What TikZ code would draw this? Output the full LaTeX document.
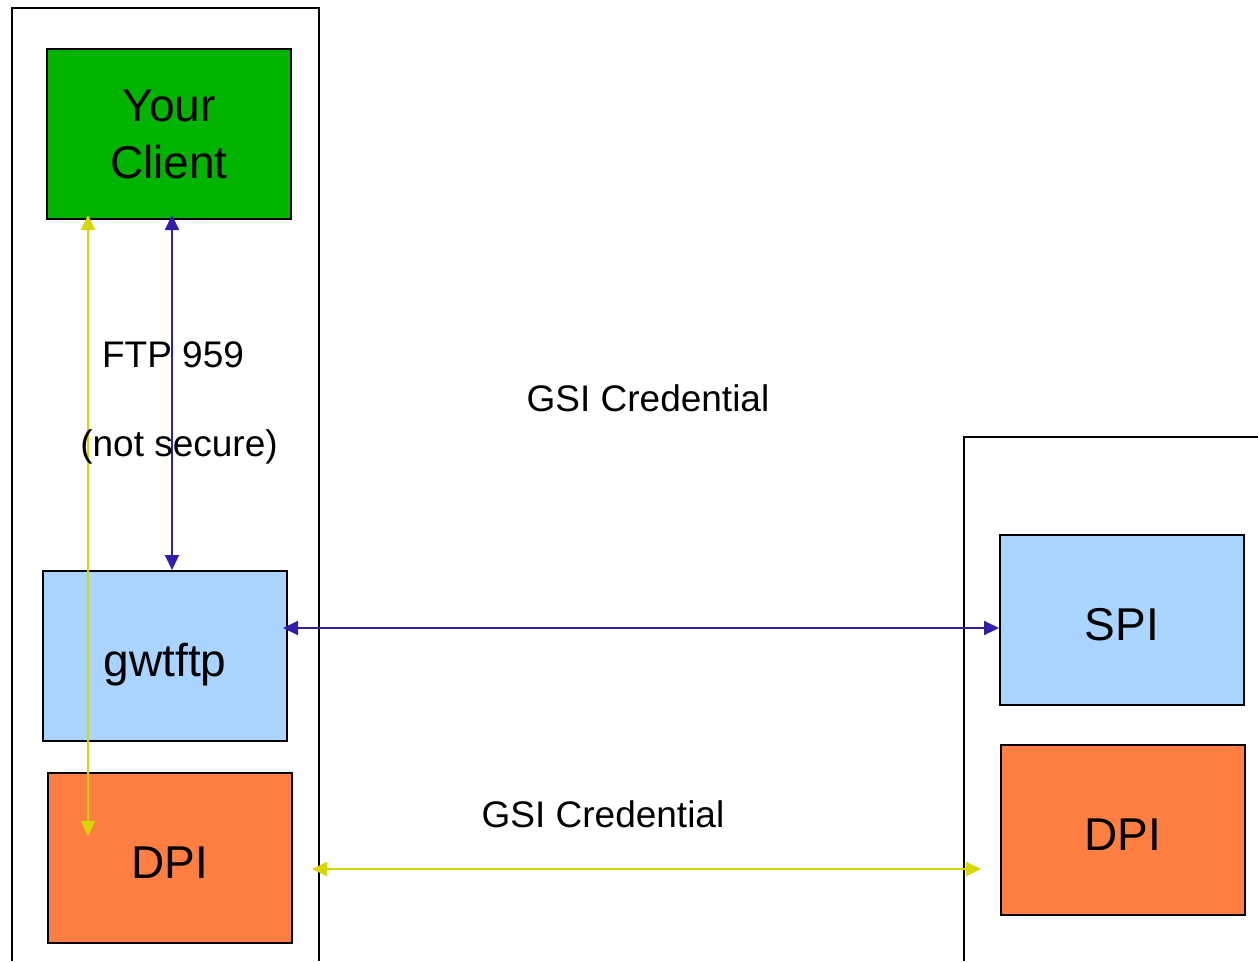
\documentclass[tikz,border=0pt]{standalone}
\usepackage{fontspec}
\setmainfont{Liberation Sans}
\usetikzlibrary{arrows.meta,calc}
\definecolor{clientgreen}{RGB}{0,180,0}
\definecolor{pilightblue}{RGB}{168,212,255}
\definecolor{dpiorange}{RGB}{255,127,66}
\definecolor{linkblue}{RGB}{51,30,170}
\definecolor{linkyellow}{RGB}{214,214,0}
\tikzset{
  box/.style={draw=black, line width=2pt, minimum width=244pt, minimum height=170pt,
              inner sep=0pt, text height=40pt, text depth=0pt,
              font=\fontsize{46}{57}\selectfont, align=center},
  frame/.style={draw=black, line width=2pt},
  link/.style={line width=2pt, {Triangle[length=15pt,width=14pt]}-{Triangle[length=15pt,width=14pt]}},
  note/.style={anchor=base, inner sep=0pt, font=\fontsize{37}{44}\selectfont}
}
\begin{document}
\begin{tikzpicture}[x=1pt,y=-1pt]
  \useasboundingbox (0,0) rectangle (1258,961);
  % host frames, open at the page edge
  \draw[frame] (12,961) |- (319,8) -- (319,961);
  \draw[frame] (964,961) |- (1258,437);

  % local host
  \node[box, fill=clientgreen, text height=, text depth=] (client) at (169,134) {Your\\Client};
  \node[box, fill=pilightblue] (gw) at (165,656) {gwtftp};
  \node[box, fill=dpiorange] (ldpi) at (170,858) {DPI};

  % remote host
  \node[box, fill=pilightblue] (spi) at (1122,620) {SPI};
  \node[box, fill=dpiorange] (rdpi) at (1123,830) {DPI};

  % connectors
  \draw[link, draw=linkyellow, fill=linkyellow]
    ([xshift=-81pt,yshift=5pt]client.south) -- ([xshift=-82pt,yshift=-64pt]ldpi.north);
  \draw[link, draw=linkblue, fill=linkblue]
    ([xshift=3pt,yshift=5pt]client.south) -- ([xshift=7pt,yshift=0pt]gw.north);
  \draw[link, draw=linkblue, fill=linkblue]
    ([xshift=-5pt,yshift=28pt]gw.east) -- ([yshift=-8pt]spi.west);
  \draw[link, draw=linkyellow, fill=linkyellow]
    ([xshift=19pt,yshift=-11pt]ldpi.east) -- ([xshift=-19pt,yshift=-39pt]rdpi.west);

  % labels
  \node[note] (ftp) at (173,367) {FTP 959};
  \node[note] (ns) at (179,456) {(not secure)};
  \node[note] (gsi1) at (648,411) {GSI Credential};
  \node[note] (gsi2) at (603,827) {GSI Credential};
\end{tikzpicture}
\end{document}
